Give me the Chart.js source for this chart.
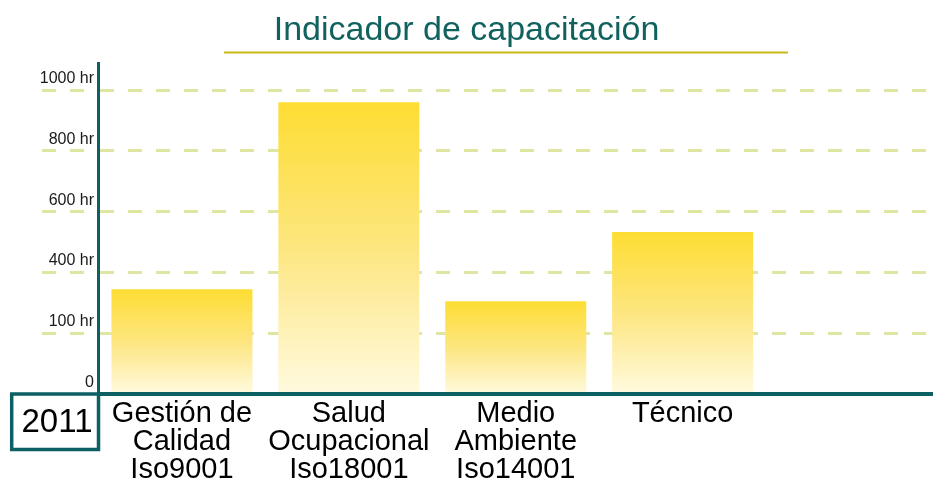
<!DOCTYPE html>
<html>
<head>
<meta charset="utf-8">
<script src="https://cdn.jsdelivr.net/npm/chart.js@4"></script>
<style>
  html, body { margin: 0; padding: 0; background: #ffffff; }
  #wrap { width: 933px; height: 482px; }
</style>
</head>
<body>
<div id="wrap"><canvas id="c" width="933" height="482"></canvas></div>
<script>
const titleText = 'Indicador de capacitación';
const yearLabel = '2011';
const categories = [
  ['Gestión de', 'Calidad', 'Iso9001'],
  ['Salud', 'Ocupacional', 'Iso18001'],
  ['Medio', 'Ambiente', 'Iso14001'],
  'Técnico'
];
const hours = [345, 960, 305, 533];
const tickValues = [0, 200, 400, 600, 800, 1000];
const tickLabels = ['0', '100 hr', '400 hr', '600 hr', '800 hr', '1000 hr'];

const TEAL = '#0c5f62';
const GRID = '#dfe6a2';
const FONT = '"Liberation Sans", Arial, Helvetica, sans-serif';

const labels = categories.concat(['']);

const decorPlugin = {
  id: 'decor',
  afterDraw(chart) {
    const ctx = chart.ctx;
    const area = chart.chartArea;
    ctx.save();
    // title underline
    ctx.strokeStyle = '#cbb816';
    ctx.lineWidth = 2;
    ctx.beginPath();
    ctx.moveTo(224, 52.5);
    ctx.lineTo(788, 52.5);
    ctx.stroke();
    // year box
    ctx.strokeStyle = TEAL;
    ctx.lineWidth = 3.5;
    ctx.beginPath();
    ctx.moveTo(area.left, area.bottom);
    ctx.lineTo(11.7, area.bottom);
    ctx.lineTo(11.7, 449.5);
    ctx.lineTo(area.left, 449.5);
    ctx.lineTo(area.left, area.bottom);
    ctx.stroke();
    // year text
    ctx.fillStyle = '#000000';
    ctx.font = '33px ' + FONT;
    ctx.textAlign = 'center';
    ctx.textBaseline = 'middle';
    ctx.fillText(yearLabel, 57, 422.5);
    ctx.restore();
  }
};

new Chart(document.getElementById('c'), {
  type: 'bar',
  data: {
    labels: labels,
    datasets: [{
      data: hours,
      borderWidth: 0,
      barPercentage: 0.845,
      categoryPercentage: 1.0,
      backgroundColor: (c) => {
        const chart = c.chart;
        if (!chart.chartArea || !chart.scales.y || c.dataIndex === undefined) return '#fde25a';
        const y = chart.scales.y;
        const top = y.getPixelForValue(hours[c.dataIndex]);
        const bottom = y.getPixelForValue(0);
        const g = chart.ctx.createLinearGradient(0, top, 0, bottom);
        g.addColorStop(0, '#fedd33');
        g.addColorStop(0.5, '#fde680');
        g.addColorStop(1, '#fffadf');
        return g;
      }
    }]
  },
  options: {
    responsive: false,
    animation: false,
    devicePixelRatio: 1,
    layout: { padding: 0 },
    plugins: {
      legend: { display: false },
      tooltip: { enabled: false },
      title: {
        display: true,
        text: titleText,
        color: '#11625f',
        font: { family: FONT, size: 34, weight: 'normal', lineHeight: '40px' },
        padding: { top: 11, bottom: 12 }
      }
    },
    scales: {
      x: {
        grid: { display: false, drawTicks: false, tickLength: 0 },
        border: { display: true, color: TEAL, width: 4, z: 1 },
        ticks: {
          color: '#000000',
          font: { family: FONT, size: 29, lineHeight: '28px' },
          padding: 6,
          maxRotation: 0,
          minRotation: 0,
          autoSkip: false
        },
        afterFit: (s) => { s.height = 88; }
      },
      y: {
        min: 0,
        max: 1089,
        afterBuildTicks: (s) => { s.ticks = tickValues.map(v => ({ value: v })); },
        afterFit: (s) => { s.width = 98.5; },
        grid: {
          color: GRID,
          lineWidth: 3,
          drawTicks: true,
          tickLength: 56.5,
          tickBorderDash: [14, 14],
          tickColor: (c) => (c.tick && c.tick.value === 0) ? 'rgba(0,0,0,0)' : GRID
        },
        border: { display: true, color: TEAL, width: 3, dash: [14, 14] },
        ticks: {
          color: '#1a1a1a',
          font: { family: FONT, size: 16 },
          padding: -52,
          labelOffset: -11.5,
          callback: (v, i) => tickLabels[i]
        }
      }
    }
  },
  plugins: [decorPlugin]
});
</script>
</body>
</html>
